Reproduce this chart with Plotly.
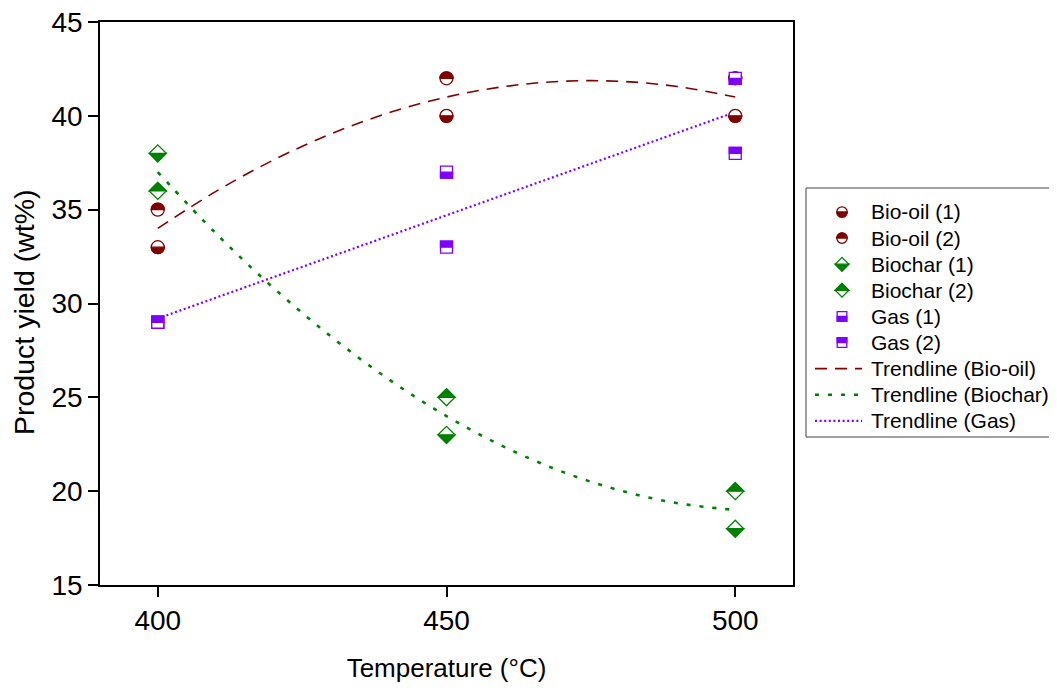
import plotly.graph_objects as go

# ---------------- data ----------------
temps = [400, 450, 500]
biooil_1 = [33, 40, 40]
biooil_2 = [35, 42, 42]
biochar_1 = [38, 23, 18]
biochar_2 = [36, 25, 20]
gas_1 = [29, 37, 42]
gas_2 = [29, 33, 38]

trend_x = [400, 410, 420, 430, 440, 450, 460, 470, 480, 490, 500]
trend_biooil = [34.0, 35.96, 37.64, 39.04, 40.16, 41.0, 41.56, 41.84, 41.84, 41.56, 41.0]
trend_biochar = [37.0, 33.76, 30.84, 28.24, 25.96, 24.0, 22.36, 21.04, 20.04, 19.36, 19.0]
trend_gas_x = [400, 450, 500]
trend_gas = [29.2, 34.7, 40.2]

series_names = ["Bio-oil (1)", "Bio-oil (2)", "Biochar (1)", "Biochar (2)", "Gas (1)", "Gas (2)"]
trend_names = ["Trendline (Bio-oil)", "Trendline (Biochar)", "Trendline (Gas)"]

# ---------------- styles ----------------
RED = "#800000"
GREEN = "#008000"
PURPLE = "#8000FF"
FONT = "Arial, Liberation Sans, sans-serif"

OFFX, OFFY = 8, 8
W, H = 1057 - OFFX, 691 - 2 * OFFY
PL, PT, PW, PH = 100, 22, 693, 563          # plot area in page pixels
ML, MT = PL - OFFX, PT - OFFY
MR = W - ML - PW
MB = H - MT - PH


def px2paper(px, py):
    return (px - PL) / PW, 1 - (py - PT) / PH


def full_path(kind, r):
    if kind == "circle":
        k = 0.5523 * r
        return (f"M {r},0 C {r},{k} {k},{r} 0,{r} C {-k},{r} {-r},{k} {-r},0 "
                f"C {-r},{-k} {-k},{-r} 0,{-r} C {k},{-r} {r},{-k} {r},0 Z")
    if kind == "diamond":
        return f"M 0,{r} L {r},0 L 0,{-r} L {-r},0 Z"
    return f"M {-r},{-r} L {r},{-r} L {r},{r} L {-r},{r} Z"


def half_path(kind, r, top):
    # pixel-mode path: positive y points up on screen
    s = 1 if top else -1
    if kind == "circle":
        k = 0.5523 * r
        return (f"M {r},0 C {r},{s*k} {k},{s*r} 0,{s*r} C {-k},{s*r} {-r},{s*k} {-r},0 Z")
    if kind == "diamond":
        return f"M {-r},0 L 0,{s*r} L {r},0 Z"
    return f"M {-r},0 L {-r},{s*r} L {r},{s*r} L {r},0 Z"


def marker_shapes(xref, yref, x, y, kind, r, color, top_filled):
    base = dict(type="path", xref=xref, yref=yref, xsizemode="pixel", ysizemode="pixel",
                xanchor=x, yanchor=y, layer="above")
    return [
        dict(base, path=full_path(kind, r), fillcolor="white", line=dict(color=color, width=1.3)),
        dict(base, path=half_path(kind, r, top_filled), fillcolor=color, line=dict(color=color, width=1.3)),
    ]


marker_specs = [
    (biooil_1, "circle", 6.5, RED, False),
    (biooil_2, "circle", 6.5, RED, True),
    (biochar_1, "diamond", 8.5, GREEN, False),
    (biochar_2, "diamond", 8.5, GREEN, True),
    (gas_1, "square", 6, PURPLE, False),
    (gas_2, "square", 6, PURPLE, True),
]

trend_styles = [
    dict(color=RED, width=1.6, dash="12px,8px"),
    dict(color=GREEN, width=2.6, dash="4px,9px"),
    dict(color=PURPLE, width=2.2, dash="2px,2.6px"),
]

fig = go.Figure()

fig.add_trace(go.Scatter(x=trend_x, y=trend_biooil, mode="lines", line_shape="spline",
                         line=trend_styles[0], name=trend_names[0], showlegend=False))
fig.add_trace(go.Scatter(x=trend_x, y=trend_biochar, mode="lines", line_shape="spline",
                         line=trend_styles[1], name=trend_names[1], showlegend=False))
fig.add_trace(go.Scatter(x=trend_gas_x, y=trend_gas, mode="lines",
                         line=trend_styles[2], name=trend_names[2], showlegend=False))

shapes = []
for name, (vals, kind, r, color, top) in zip(series_names, marker_specs):
    fig.add_trace(go.Scatter(x=temps, y=vals, mode="markers", name=name, showlegend=False,
                             marker=dict(size=2 * r, color=color, opacity=0)))
    for xv, yv in zip(temps, vals):
        shapes += marker_shapes("x", "y", xv, yv, kind, r, color, top)

# ---------------- manual legend ----------------
lx0, ly1 = px2paper(806, 188)
lx1, ly0 = px2paper(1075, 437)
shapes.append(dict(type="rect", xref="paper", yref="paper", x0=lx0, x1=lx1, y0=ly0, y1=ly1,
                   line=dict(color="#404040", width=1), fillcolor="rgba(0,0,0,0)", layer="above"))

annotations = []
row_y = [212 + i * 26.1 for i in range(9)]
for i, (name, (vals, kind, r, color, top)) in enumerate(zip(series_names, marker_specs)):
    sx, sy = px2paper(842, row_y[i])
    shapes += marker_shapes("paper", "paper", sx, sy, kind, r * 0.8, color, top)
    tx, ty = px2paper(869, row_y[i])
    annotations.append(dict(xref="paper", yref="paper", x=tx, y=ty, text=name, showarrow=False,
                            xanchor="left", yanchor="middle", font=dict(family=FONT, size=21, color="black")))

for j, (name, st) in enumerate(zip(trend_names, trend_styles)):
    i = 6 + j
    x0, yy = px2paper(815, row_y[i])
    x1, _ = px2paper(862, row_y[i])
    shapes.append(dict(type="line", xref="paper", yref="paper", x0=x0, x1=x1, y0=yy, y1=yy,
                       line=st, layer="above"))
    tx, ty = px2paper(869, row_y[i])
    annotations.append(dict(xref="paper", yref="paper", x=tx, y=ty, text=name, showarrow=False,
                            xanchor="left", yanchor="middle", font=dict(family=FONT, size=21, color="black")))

# y-axis title (placed as in the reference, slightly below plot centre)
yt_x, yt_y = px2paper(24, 312)
annotations.append(dict(xref="paper", yref="paper", x=yt_x, y=yt_y, text="Product yield (wt%)",
                        showarrow=False, textangle=-90, xanchor="center", yanchor="middle",
                        font=dict(family=FONT, size=28.5, color="black")))

fig.update_layout(
    width=W, height=H,
    margin=dict(l=ML, r=MR, t=MT, b=MB, autoexpand=False),
    paper_bgcolor="white", plot_bgcolor="white",
    font=dict(family=FONT, color="black"),
    showlegend=False,
    shapes=shapes,
    annotations=annotations,
    xaxis=dict(range=[390, 510], tickvals=temps, ticktext=[str(t) for t in temps],
               ticks="outside", ticklen=10, tickwidth=1.5, tickcolor="black",
               showline=True, linecolor="black", linewidth=1.5, mirror=True,
               showgrid=False, zeroline=False, tickfont=dict(size=28), ticklabeloverflow="allow",
               title=dict(text="Temperature (°C)", font=dict(size=26), standoff=25)),
    yaxis=dict(range=[15, 45], dtick=5, tick0=15,
               ticks="outside", ticklen=10, tickwidth=1.5, tickcolor="black",
               showline=True, linecolor="black", linewidth=1.5, mirror=True,
               showgrid=False, zeroline=False, tickfont=dict(size=28), ticklabeloverflow="allow"),
)

fig.write_html("out.html")
